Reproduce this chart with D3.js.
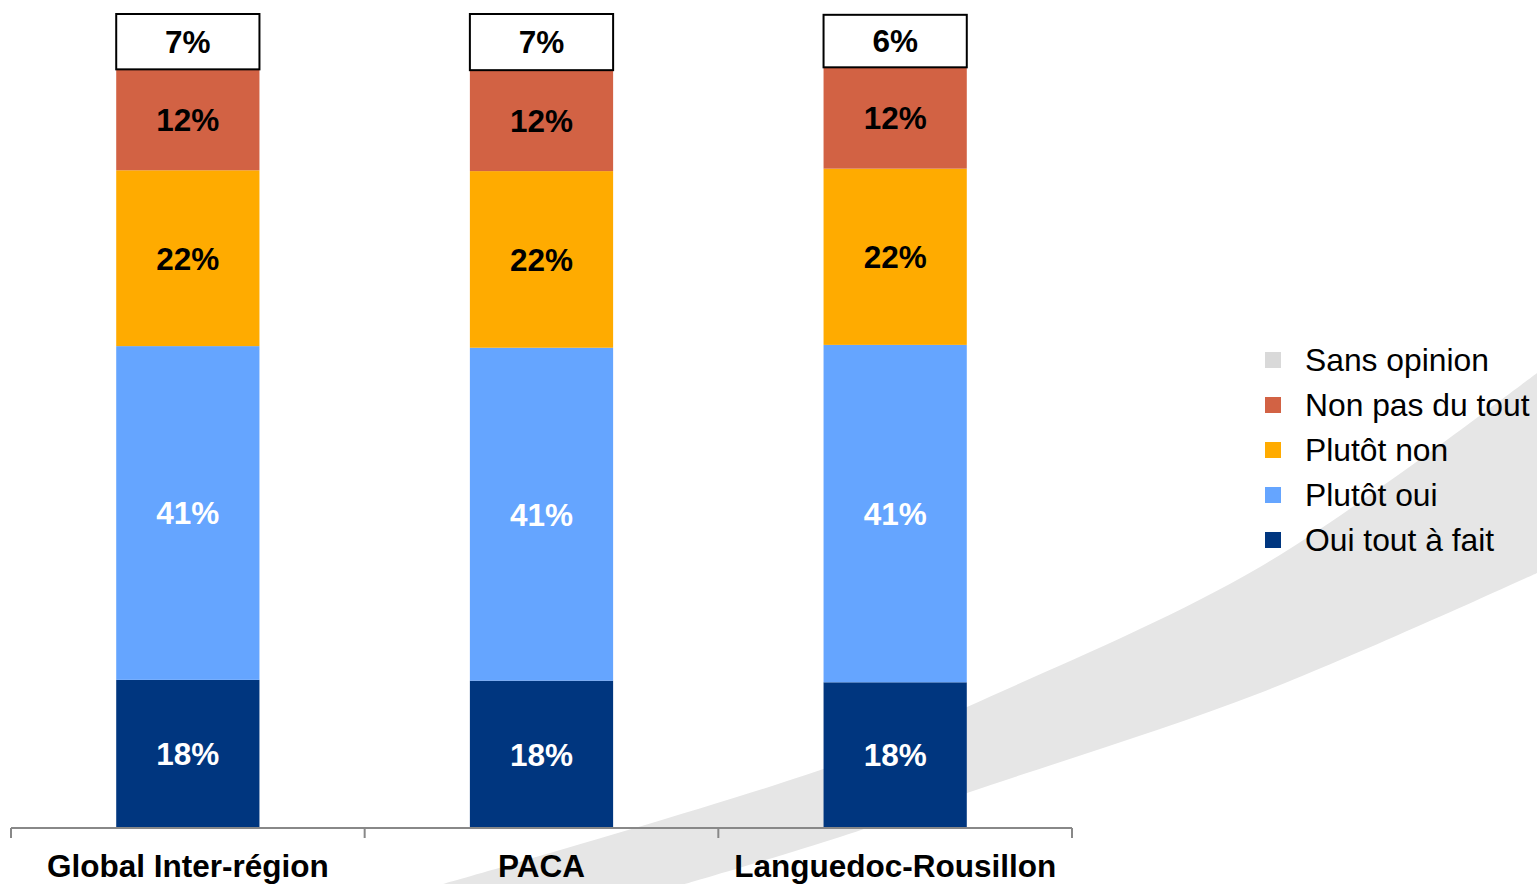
<!DOCTYPE html>
<html>
<head>
<meta charset="utf-8">
<script src="https://cdn.jsdelivr.net/npm/d3@7"></script>
<style>
  html, body { margin: 0; padding: 0; background: #fff; }
  svg { display: block; font-family: "Liberation Sans", Arial, sans-serif; }
</style>
</head>
<body>
<div id="chart"></div>
<script>
// categories and series (bottom to top)
var categories = ["Global Inter-région", "PACA", "Languedoc-Rousillon"];
var seriesNames = ["Oui tout à fait", "Plutôt oui", "Plutôt non", "Non pas du tout", "Sans opinion"];
var ouiToutAFait = [18.2, 18.1, 17.9];
var plutotOui = [41.0, 40.9, 41.45];
var plutotNon = [21.6, 21.7, 21.65];
var nonPasDuTout = [12.4, 12.4, 12.45];
var sansOpinion = [6.8, 6.9, 6.45];

var seriesColors = ["#00367f", "#65a5ff", "#ffab00", "#d26244", "#ffffff"];
var labelColors = ["#fff", "#fff", "#000", "#000", "#000"];
var legendColors = ["#00367f", "#65a5ff", "#ffab00", "#d26244", "#d9d9d9"];

// background swoosh edges
var swooshTop = [[443, 884], [840, 763], [967, 707], [1260, 567], [1537, 373]];
var swooshBottom = [[1537, 573], [1260, 693], [967, 793], [840, 837], [685, 884]];

var width = 1537, height = 884;
var svg = d3.select("#chart").append("svg")
  .attr("width", width).attr("height", height);

// swoosh
var edge = d3.line().curve(d3.curveCatmullRom);
svg.append("path")
  .attr("d", edge(swooshTop) + "L" + edge(swooshBottom).slice(1) + "Z")
  .attr("fill", "#e6e6e6");

var table = categories.map((c, i) => ({
  cat: c,
  "Oui tout à fait": ouiToutAFait[i],
  "Plutôt oui": plutotOui[i],
  "Plutôt non": plutotNon[i],
  "Non pas du tout": nonPasDuTout[i],
  "Sans opinion": sansOpinion[i]
}));

var stacked = d3.stack().keys(seriesNames)(table);

var x = d3.scaleBand().domain(categories).range([11, 1072]).padding(0);
var barW = x.bandwidth() * 0.405;
var y = d3.scaleLinear().domain([0, 100]).range([828, 14]);

var groups = svg.selectAll(".serie")
  .data(stacked).enter()
  .append("g").attr("class", "serie");

groups.selectAll("rect")
  .data((s, si) => s.map(d => ({ d: d, si: si, cat: d.data.cat })))
  .enter().append("rect")
  .attr("x", o => x(o.cat) + (x.bandwidth() - barW) / 2)
  .attr("width", barW)
  .attr("y", o => y(o.d[1]))
  .attr("height", o => y(o.d[0]) - y(o.d[1]))
  .attr("fill", o => seriesColors[o.si])
  .attr("stroke", o => o.si == 4 ? "#000" : "none")
  .attr("stroke-width", 2);

var fmt = d3.format(".0f");
groups.selectAll("text")
  .data((s, si) => s.map(d => ({ d: d, si: si, cat: d.data.cat })))
  .enter().append("text")
  .attr("x", o => x(o.cat) + x.bandwidth() / 2)
  .attr("y", o => (y(o.d[0]) + y(o.d[1])) / 2)
  .attr("dy", "0.36em")
  .attr("text-anchor", "middle")
  .attr("font-size", 31.5)
  .attr("font-weight", "bold")
  .attr("fill", o => labelColors[o.si])
  .text(o => fmt(o.d.data[seriesNames[o.si]]) + "%");

// x axis
var axis = svg.append("g")
  .attr("transform", "translate(0," + y(0) + ")");
axis.append("line")
  .attr("x1", x.range()[0]).attr("x2", x.range()[1])
  .attr("stroke", "#888").attr("stroke-width", 2);
var tickX = categories.map(c => x(c)).concat([x.range()[1]]);
axis.selectAll(".tick")
  .data(tickX).enter()
  .append("line")
  .attr("x1", d => d).attr("x2", d => d)
  .attr("y1", 0).attr("y2", 10)
  .attr("stroke", "#888").attr("stroke-width", 2);
axis.selectAll(".cat")
  .data(categories).enter()
  .append("text")
  .attr("x", d => x(d) + x.bandwidth() / 2)
  .attr("y", 49)
  .attr("text-anchor", "middle")
  .attr("font-size", 31.5)
  .attr("font-weight", "bold")
  .attr("fill", "#000")
  .text(d => d);

// legend, top item is Sans opinion
var legendItems = seriesNames.map((n, i) => ({ name: n, color: legendColors[i] })).reverse();
var legend = svg.append("g").attr("transform", "translate(1265,360)");
var li = legend.selectAll("g")
  .data(legendItems).enter()
  .append("g")
  .attr("transform", (d, i) => "translate(0," + i * 45 + ")");
li.append("rect")
  .attr("x", 0).attr("y", -8)
  .attr("width", 16).attr("height", 16)
  .attr("fill", d => d.color);
li.append("text")
  .attr("x", 40).attr("y", 0)
  .attr("dy", "0.36em")
  .attr("font-size", 31.8)
  .attr("fill", "#000")
  .text(d => d.name);
</script>
</body>
</html>
